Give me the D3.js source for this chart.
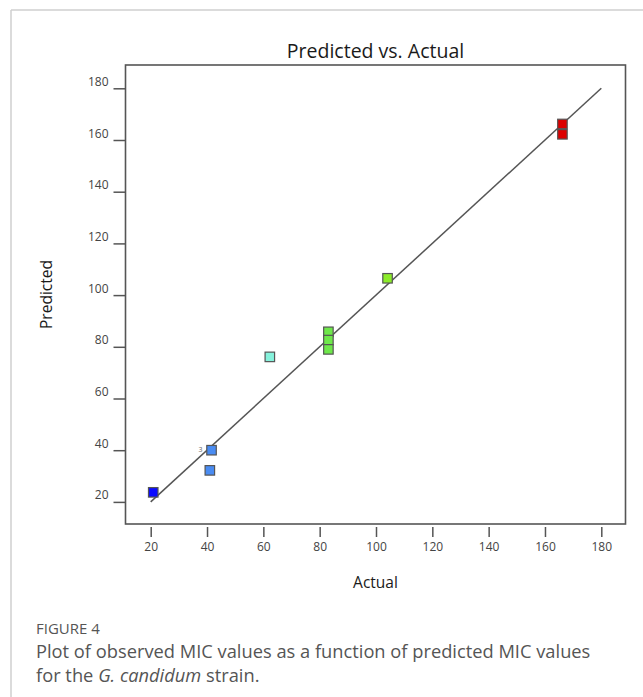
<!DOCTYPE html>
<html>
<head>
<meta charset="utf-8">
<script src="https://cdn.jsdelivr.net/npm/d3@7"></script>
<style>
  body { margin: 0; background: #fff; }
  svg { display: block; }
</style>
</head>
<body>
<svg id="chart" width="643" height="697"></svg>
<script>
// Design points: actual vs. predicted MIC values
const actual    = [20.9, 41.6, 41.0, 62.3, 83.1, 83.1, 83.1, 104.1, 166.2, 166.2];
const predicted = [23.7, 40.0, 32.2, 76.1, 85.8, 82.6, 79.0, 106.5, 166.2, 162.2];
const pointColors = ["#0a0aff", "#4a8cf2", "#4a8cf2", "#86f2dc", "#6ee84a", "#6ee84a", "#6ee84a", "#8cec2a", "#dc0000", "#dc0000"];
const pointLabels = ["", "3", "", "", "", "", "", "", "", ""];
const xTicks = [20, 40, 60, 80, 100, 120, 140, 160, 180];
const yTicks = [20, 40, 60, 80, 100, 120, 140, 160, 180];
const fitLine = [[20, 20], [180, 180]];

const svg = d3.select("#chart");

// Page frame lines
svg.append("line").attr("x1", 11).attr("y1", 10).attr("x2", 643).attr("y2", 10)
  .attr("stroke", "#cfcfcf").attr("stroke-width", 1.5);
svg.append("line").attr("x1", 11).attr("y1", 10).attr("x2", 11).attr("y2", 697)
  .attr("stroke", "#cfcfcf").attr("stroke-width", 1.5);

// Plot box
const box = { left: 125.5, right: 625.5, top: 65, bottom: 524 };

const x = d3.scaleLinear().domain([20, 180]).range([150.7, 601.3]);
const y = d3.scaleLinear().domain([20, 180]).range([501.9, 88.3]);

const axisColor = "#555";
const tickFont = "'Open Sans', sans-serif";

svg.append("rect")
  .attr("x", box.left).attr("y", box.top)
  .attr("width", box.right - box.left).attr("height", box.bottom - box.top)
  .attr("fill", "none").attr("stroke", axisColor).attr("stroke-width", 1.6);

// X axis ticks and labels
const xAxis = svg.append("g")
  .attr("transform", `translate(0,${box.bottom + 3})`)
  .call(d3.axisBottom(x).tickValues(xTicks).tickSize(10).tickPadding(5));
xAxis.select(".domain").remove();
xAxis.selectAll(".tick line").attr("stroke", axisColor).attr("stroke-width", 1.5);
xAxis.selectAll(".tick text")
  .attr("fill", "#444").style("font-family", tickFont).style("font-size", "12px");

// Y axis ticks and labels
const yAxis = svg.append("g")
  .attr("transform", `translate(${box.left},0)`)
  .call(d3.axisLeft(y).tickValues(yTicks).tickSize(12).tickPadding(5));
yAxis.select(".domain").remove();
yAxis.selectAll(".tick line").attr("stroke", axisColor).attr("stroke-width", 1.5);
yAxis.selectAll(".tick text")
  .attr("fill", "#444").attr("dy", "-0.25em")
  .style("font-family", tickFont).style("font-size", "12px");

// 45-degree reference line
svg.append("path")
  .datum(fitLine)
  .attr("d", d3.line().x(d => x(d[0])).y(d => y(d[1])))
  .attr("fill", "none").attr("stroke", "#555").attr("stroke-width", 1.5);

// Points
const pts = actual.map((a, i) => ({ a, p: predicted[i], c: pointColors[i], l: pointLabels[i] }));
const s = 9.5;
svg.append("g").selectAll("rect")
  .data(pts).join("rect")
  .attr("x", d => x(d.a) - s / 2).attr("y", d => y(d.p) - s / 2)
  .attr("width", s).attr("height", s)
  .attr("fill", d => d.c).attr("stroke", "#555").attr("stroke-width", 1.2);

svg.append("g").selectAll("text")
  .data(pts.filter(d => d.l)).join("text")
  .attr("x", d => x(d.a) - 9).attr("y", d => y(d.p) + 2)
  .attr("text-anchor", "end")
  .attr("fill", "#666").style("font-family", tickFont).style("font-size", "7px")
  .text(d => d.l);

// Titles
svg.append("text")
  .attr("x", (box.left + box.right) / 2).attr("y", 58)
  .attr("text-anchor", "middle").attr("fill", "#1a1a1a")
  .style("font-family", tickFont).style("font-size", "19.5px")
  .text("Predicted vs. Actual");

svg.append("text")
  .attr("x", (box.left + box.right) / 2).attr("y", 588)
  .attr("text-anchor", "middle").attr("fill", "#1a1a1a")
  .style("font-family", tickFont).style("font-size", "15.5px")
  .text("Actual");

svg.append("text")
  .attr("transform", `translate(52,${(box.top + box.bottom) / 2}) rotate(-90)`)
  .attr("text-anchor", "middle").attr("fill", "#1a1a1a")
  .style("font-family", tickFont).style("font-size", "15.5px")
  .text("Predicted");

// Caption
const capFont = "'Open Sans', sans-serif";
svg.append("text")
  .attr("x", 36).attr("y", 634)
  .attr("fill", "#555").style("font-family", capFont).style("font-size", "15px")
  .text("FIGURE 4");
svg.append("text")
  .attr("x", 36).attr("y", 658)
  .attr("fill", "#555").style("font-family", capFont).style("font-size", "18.3px")
  .text("Plot of observed MIC values as a function of predicted MIC values");
const line2 = svg.append("text")
  .attr("x", 36).attr("y", 682)
  .attr("fill", "#555").style("font-family", capFont).style("font-size", "18.3px");
line2.append("tspan").text("for the ");
line2.append("tspan").style("font-style", "italic").text("G. candidum");
line2.append("tspan").text(" strain.");
</script>
</body>
</html>
